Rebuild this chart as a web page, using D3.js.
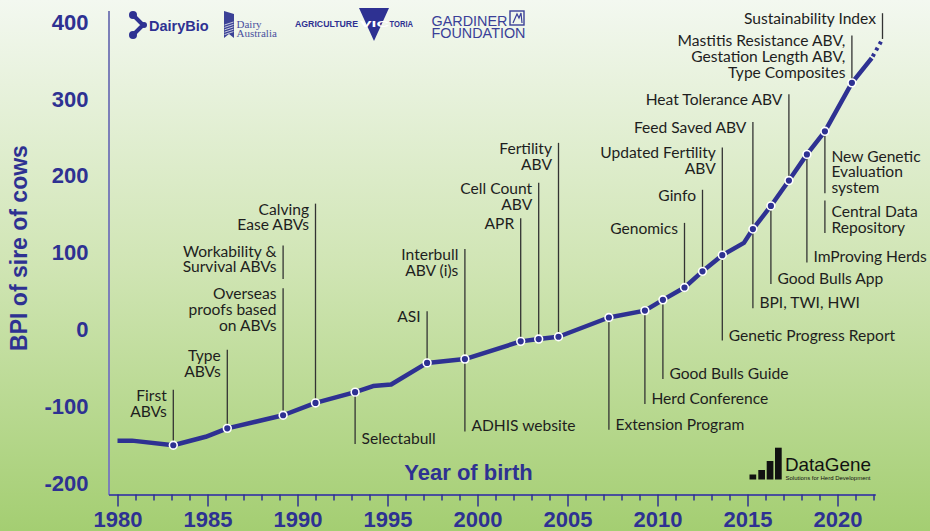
<!DOCTYPE html>
<html>
<head>
<meta charset="utf-8">
<script src="https://cdn.jsdelivr.net/npm/d3@7"></script>
<style>
  body { margin: 0; }
  svg { display: block; }
</style>
</head>
<body>
<div id="chart"></div>
<script>
// BPI of sire of cows by year of birth
const years = [1980, 1980.8, 1983.1, 1984.9, 1986.1, 1989.2, 1991.0, 1993.2, 1994.2, 1995.2,
  1997.2, 1999.3, 2002.4, 2003.4, 2004.5, 2007.3, 2009.3, 2010.3, 2011.5, 2012.5,
  2013.6, 2014.8, 2015.3, 2016.3, 2017.3, 2018.3, 2019.3, 2020.8, 2021.9];
const bpi = [-144, -144, -150, -139, -128, -111, -95, -81, -73, -71,
  -43, -38, -15, -12, -9, 16, 25, 39, 55, 76,
  97, 113, 131, 161, 194, 228, 258, 321, 353];

// projected tail (dotted)
const projYears = [2021.9, 2022.5];
const projBpi = [353, 378];

const yTicks = [-200, -100, 0, 100, 200, 300, 400];
const xTicks = d3.range(1980, 2023);

// milestones: year of the point they mark, label lines, which side of the leader the text sits
const eventYears = [1983.1, 1986.1, 1989.2, 1989.2, 1991.0, 1993.2, 1997.2, 1999.3, 1999.3,
  2002.4, 2003.4, 2004.5, 2007.3, 2009.3, 2010.3, 2011.5, 2012.5, 2013.6, 2013.6,
  2015.3, 2015.3, 2016.3, 2017.3, 2018.3, 2019.3, 2019.3, 2020.8, 2022.5];
const eventLabels = [
  ["First", "ABVs"],
  ["Type", "ABVs"],
  ["Workability &", "Survival ABVs"],
  ["Overseas", "proofs based", "on ABVs"],
  ["Calving", "Ease ABVs"],
  ["Selectabull"],
  ["ASI"],
  ["Interbull", "ABV (i)s"],
  ["ADHIS website"],
  ["APR"],
  ["Cell Count", "ABV"],
  ["Fertility", "ABV"],
  ["Extension Program"],
  ["Herd Conference"],
  ["Good Bulls Guide"],
  ["Genomics"],
  ["Ginfo"],
  ["Updated Fertility", "ABV"],
  ["Genetic Progress Report"],
  ["Feed Saved ABV"],
  ["BPI, TWI, HWI"],
  ["Good Bulls App"],
  ["Heat Tolerance ABV"],
  ["ImProving Herds"],
  ["New Genetic", "Evaluation", "system"],
  ["Central Data", "Repository"],
  ["Mastitis Resistance ABV,", "Gestation Length ABV,", "Type Composites"],
  ["Sustainability Index"]
];
const eventSides = ["L", "L", "L", "L", "L", "R", "L", "L", "R",
  "L", "L", "L", "R", "R", "R", "L", "L", "L", "R",
  "L", "R", "R", "L", "R", "R", "R", "L", "L"];
// leader line ends in BPI units [upper, lower]; null = runs to the point
const eventLeaders = [[-78, null], [-26, null], [109.5, 66], [54, null], [164, null], [null, -148.5],
  [24, null], [105, null], [null, -132], [145, null], [191, null], [243, null], [null, -130],
  [null, -96.5], [null, -64], [139, null], [182, null], [237, null], [null, -14], [270, null],
  [null, 28], [null, 59.5], [306, null], [null, 87.5], [null, 177.5], [168, 125.7], [382.5, null],
  [411.5, null]];

const W = 930, H = 531;
const blue = "#2e3192";

const svg = d3.select("#chart").append("svg")
  .attr("width", W)
  .attr("height", H)
  .style("font-family", "Liberation Sans, Arial, sans-serif");

// background gradient
const grad = svg.append("defs").append("linearGradient")
  .attr("id", "bg").attr("x1", 0).attr("y1", 0).attr("x2", 0).attr("y2", 1);
grad.append("stop").attr("offset", "0%").attr("stop-color", "#f3f8f0");
grad.append("stop").attr("offset", "50%").attr("stop-color", "#d0e5b4");
grad.append("stop").attr("offset", "100%").attr("stop-color", "#a4ce72");
svg.append("rect").attr("width", W).attr("height", H).attr("fill", "url(#bg)");

const x = d3.scaleLinear().domain([1979.5, 2022.1]).range([108.5, 875.3]);
const y = d3.scaleLinear().domain([-214, 415]).range([494.5, 10.5]);

// y axis
const gy = svg.append("g")
  .attr("transform", `translate(${x.range()[0]},0)`)
  .call(d3.axisLeft(y).tickValues(yTicks).tickSize(0).tickPadding(20)
    .tickFormat(d => String(d)));
gy.select(".domain").attr("stroke", "#7c80b8").attr("stroke-width", 2);
gy.selectAll("text")
  .attr("fill", blue)
  .attr("font-size", 22)
  .attr("font-weight", "bold")
  .attr("font-family", "Liberation Sans, Arial, sans-serif");

// x axis
const gx = svg.append("g")
  .attr("transform", `translate(0,${y.range()[0]})`)
  .call(d3.axisBottom(x).tickValues(xTicks).tickSizeOuter(0)
    .tickFormat(d => d % 5 === 0 ? String(d) : ""));
gx.select(".domain").attr("stroke", "#4a4f9c").attr("stroke-width", 2);
gx.selectAll(".tick line")
  .attr("stroke", blue)
  .attr("stroke-width", 1.5)
  .attr("y2", d => d % 5 === 0 ? 12 : 6);
gx.selectAll(".tick").filter(d => d % 5 !== 0).select("text").remove();
gx.selectAll("text")
  .attr("y", 17)
  .attr("fill", blue)
  .attr("font-size", 22)
  .attr("font-weight", "bold")
  .attr("font-family", "Liberation Sans, Arial, sans-serif");

// axis titles
svg.append("text")
  .attr("x", 468.5).attr("y", 480)
  .attr("text-anchor", "middle")
  .attr("fill", blue)
  .attr("font-size", 22)
  .attr("font-weight", "bold")
  .text("Year of birth");

svg.append("text")
  .attr("transform", "translate(26.5,248) rotate(-90)")
  .attr("text-anchor", "middle")
  .attr("fill", blue)
  .attr("font-size", 23)
  .attr("font-weight", "bold")
  .text("BPI of sire of cows");

// leader lines and milestone labels
const pointAt = yr => {
  let i = years.indexOf(yr);
  if (i >= 0) return bpi[i];
  i = projYears.indexOf(yr);
  return projBpi[i];
};
const lineH = 15.8, gap = 6.5, fs = 15.6;
const ann = svg.append("g")
  .style("font-family", "Lato, 'Open Sans', sans-serif")
  .attr("font-size", fs)
  .attr("fill", "#1e1e1e");

eventYears.forEach((yr, i) => {
  const px = x(yr);
  const py = y(pointAt(yr));
  const [up, lo] = eventLeaders[i];
  const y1 = up === null ? py : y(up);
  const y2 = lo === null ? py : y(lo);
  ann.append("line")
    .attr("x1", px).attr("x2", px)
    .attr("y1", y1).attr("y2", y2)
    .attr("stroke", "#333")
    .attr("stroke-width", 1.3);

  const lines = eventLabels[i];
  const t = ann.append("text");
  if (eventSides[i] === "L") {
    t.attr("text-anchor", "end");
    lines.forEach((s, k) => {
      t.append("tspan").attr("x", px - gap).attr("y", y1 + 5.5 + k * lineH)
        .attr("dy", "0.35em").text(s);
    });
  } else {
    t.attr("text-anchor", "start");
    const n = lines.length;
    lines.forEach((s, k) => {
      t.append("tspan").attr("x", px + gap).attr("y", y2 - 5.5 - (n - 1 - k) * lineH)
        .attr("dy", "0.35em").text(s);
    });
  }
});

// BPI line
const line = d3.line().x(d => x(d[0])).y(d => y(d[1]));
svg.append("path")
  .datum(d3.zip(years, bpi))
  .attr("d", line)
  .attr("fill", "none")
  .attr("stroke", blue)
  .attr("stroke-width", 4.5)
  .attr("stroke-linejoin", "round");

svg.append("path")
  .datum(d3.zip(projYears, projBpi))
  .attr("d", line)
  .attr("fill", "none")
  .attr("stroke", blue)
  .attr("stroke-width", 4)
  .attr("stroke-dasharray", "3,4")
  .attr("stroke-dashoffset", -2);

// markers at milestone points
const markerYears = Array.from(new Set(eventYears.filter(yr => years.includes(yr))));
svg.append("g").selectAll("circle")
  .data(markerYears)
  .join("circle")
  .attr("cx", d => x(d))
  .attr("cy", d => y(pointAt(d)))
  .attr("r", 3.9)
  .attr("fill", blue)
  .attr("stroke", "#fff")
  .attr("stroke-width", 1.6);

// sponsor logos (approximations)
const logos = svg.append("g").attr("fill", blue);
// DairyBio
logos.append("path")
  .attr("d", "M133,15 L143,25 L133,35")
  .attr("fill", "none").attr("stroke", blue).attr("stroke-width", 4).attr("stroke-linejoin", "round");
logos.append("circle").attr("cx", 133).attr("cy", 15).attr("r", 4);
logos.append("circle").attr("cx", 133).attr("cy", 35).attr("r", 4);
logos.append("circle").attr("cx", 144).attr("cy", 25).attr("r", 3);
logos.append("text").attr("x", 149).attr("y", 31)
  .attr("font-size", 14.5).attr("font-weight", "bold").text("DairyBio");
// Dairy Australia
logos.append("path")
  .attr("d", "M224,11 L234,14 L234,38 L229,34 L224,38 Z")
  .attr("fill", "#3b4196");
for (let k = 0; k < 5; k++) {
  logos.append("line")
    .attr("x1", 224.5).attr("x2", 233.5)
    .attr("y1", 25 + k * 2.4).attr("y2", 22 + k * 2.4)
    .attr("stroke", "#e8eef0").attr("stroke-width", 0.8);
}
const da = logos.append("text")
  .attr("font-family", "Liberation Serif, serif").attr("font-size", 11)
  .attr("fill", "#4a50a0");
da.append("tspan").attr("x", 236.5).attr("y", 27.5).text("Dairy");
da.append("tspan").attr("x", 236.5).attr("y", 37).text("Australia");
// Agriculture Victoria
logos.append("path").attr("d", "M359,8 L389,8 L374,41 Z");
const av = logos.append("text")
  .attr("font-size", 9.5).attr("font-weight", "bold").attr("y", 26.5);
av.append("tspan").attr("x", 295)
  .attr("textLength", 63).attr("lengthAdjust", "spacingAndGlyphs").text("AGRICULTURE");
av.append("tspan").attr("x", 360).attr("fill", "#fff")
  .attr("textLength", 29).attr("lengthAdjust", "spacingAndGlyphs").text("VIC");
av.append("tspan").attr("x", 389.5)
  .attr("textLength", 23.5).attr("lengthAdjust", "spacingAndGlyphs").text("TORIA");
// Gardiner Foundation
const gf = logos.append("text")
  .attr("font-size", 14.4).attr("fill", "#3a3f98");
gf.append("tspan").attr("x", 431.5).attr("y", 25.5)
  .attr("textLength", 76).attr("lengthAdjust", "spacingAndGlyphs").text("GARDINER");
gf.append("tspan").attr("x", 431.5).attr("y", 38)
  .attr("textLength", 94).attr("lengthAdjust", "spacingAndGlyphs").text("FOUNDATION");
logos.append("rect").attr("x", 510).attr("y", 11).attr("width", 14).attr("height", 14)
  .attr("fill", "none").attr("stroke", "#3a3f98").attr("stroke-width", 1.4);
logos.append("path").attr("d", "M513,23 L517,14 L519,18 L521,13 L522,23")
  .attr("fill", "none").attr("stroke", "#3a3f98").attr("stroke-width", 1.2);

// DataGene logo
const dg = svg.append("g").attr("fill", "#111");
[[749.5, 474.5], [758.3, 470], [766.7, 461], [775, 447.7]].forEach(([bx, by]) => {
  dg.append("rect").attr("x", bx).attr("y", by).attr("width", 6.7).attr("height", 479.5 - by);
});
const dgt = dg.append("text").attr("font-family", "Liberation Sans Narrow, Liberation Sans, sans-serif");
dgt.append("tspan").attr("x", 785).attr("y", 470.5)
  .attr("font-size", 18.5).attr("font-weight", 300)
  .attr("textLength", 86).attr("lengthAdjust", "spacingAndGlyphs").text("DataGene");
dgt.append("tspan").attr("x", 785.5).attr("y", 479.5)
  .attr("font-size", 5.4)
  .attr("textLength", 85).attr("lengthAdjust", "spacingAndGlyphs").text("Solutions for Herd Development");
</script>
</body>
</html>
